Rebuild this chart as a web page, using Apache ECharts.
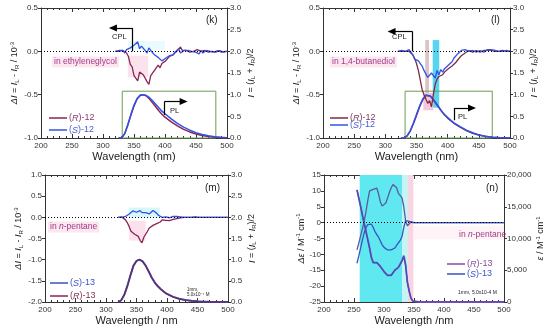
<!DOCTYPE html>
<html><head><meta charset="utf-8">
<script src="https://cdn.jsdelivr.net/npm/echarts@6/dist/echarts.min.js"></script>
<style>html,body{margin:0;padding:0;background:#fff}#c{width:550px;height:331px}</style>
</head><body><div id="c"></div>
<script>
// ---------------- DATA ----------------
const xTicks = [200, 250, 300, 350, 400, 450, 500];

// (k) CPL, ethyleneglycol
const k_cpl_wl = [320,323,326,329,332,335,338,341,344,347,350,353,356,359,362,365,368,371,374,377,380,383,386,389,392,395,398,401,404,407,410,413,416,419,422,425,428,431,434,437,440,443,446,449,452,455,458,461,464,467,470,473,476,479,482,485,488,491,494,497,500];
const k_cpl_R = [0,0.01,0,-0.01,0.01,0,-0.02,-0.06,-0.15,-0.18,-0.28,-0.27,-0.34,-0.24,-0.22,-0.27,-0.26,-0.35,-0.38,-0.28,-0.29,-0.22,-0.21,-0.16,-0.19,-0.14,-0.15,-0.11,-0.1,-0.06,-0.06,-0.04,-0.02,0,0.02,0.05,0.01,-0.01,0.01,0,-0.01,0.01,0,-0.01,0.02,0.04,0,-0.01,0.01,0,-0.01,0.01,0,0.01,-0.01,0,0.01,0,-0.01,0.01,0];
const k_cpl_S = [0,0,0.01,-0.01,0.01,-0.02,0.02,0,0.04,0.02,0.07,0.05,0.11,0.03,0.06,0.08,0.01,-0.02,0.04,0.01,-0.01,-0.04,-0.03,-0.07,-0.09,-0.11,-0.13,-0.08,-0.06,-0.05,-0.03,-0.04,-0.01,0.01,0.03,-0.02,-0.01,0.01,0,0.01,-0.01,0,0.01,-0.01,-0.02,-0.03,0.01,-0.02,0,0.01,-0.01,0,0.01,-0.01,0,0.01,0,-0.01,0.01,0,0];
// (k) PL
const k_pl_wl = [325,330,335,340,345,350,355,360,365,370,375,380,385,390,395,400,410,420,430,440,450,460,470,480,490,500];
const k_pl_R = [0,0,0.1,0.3,0.53,0.74,0.9,0.98,1.0,0.97,0.9,0.81,0.72,0.63,0.55,0.48,0.37,0.28,0.2,0.14,0.09,0.06,0.035,0.018,0.008,0.003];
const k_pl_S = [0,0,0.1,0.3,0.54,0.76,0.91,0.99,1.0,0.98,0.93,0.86,0.78,0.7,0.62,0.56,0.44,0.34,0.25,0.18,0.12,0.08,0.05,0.03,0.015,0.005];

// (l) CPL, 1,4-butanediol
const l_cpl_wl = k_cpl_wl;
const l_cpl_R = [0,0.01,0,0.01,0,0.01,0,0,-0.04,-0.08,-0.14,-0.22,-0.33,-0.44,-0.5,-0.55,-0.6,-0.57,-0.64,-0.5,-0.38,-0.32,-0.29,-0.27,-0.27,-0.24,-0.23,-0.2,-0.21,-0.17,-0.15,-0.13,-0.1,-0.08,-0.05,-0.04,-0.02,0,0.01,0,-0.01,0,0.01,0,-0.01,0,0.01,0,0.01,0.02,0.01,0,0,0.01,0,0,0.01,0,0,0,0];
const l_cpl_S = [0,0,0.01,0,0,0.01,0.02,0.03,-0.04,-0.09,-0.1,-0.11,-0.13,-0.17,-0.22,-0.26,-0.3,-0.29,-0.25,-0.24,-0.31,-0.22,-0.27,-0.21,-0.24,-0.2,-0.18,-0.16,-0.14,-0.12,-0.08,-0.06,-0.03,-0.02,0.01,0.03,0.02,0.01,0,0,0.01,0,-0.01,0,0.01,0,-0.01,0.01,0.02,0.01,0.02,0,0.01,0,0,0.01,0,0,0.01,0,0];
// (l) PL
const l_pl_wl = [325,330,335,340,345,350,355,360,365,368,372,376,380,385,390,395,400,410,420,430,440,450,460,470,480,490,500];
const l_pl_R = [0,0,0.05,0.16,0.33,0.52,0.72,0.88,0.98,1.0,0.97,0.9,0.82,0.72,0.62,0.53,0.46,0.34,0.25,0.17,0.11,0.07,0.04,0.02,0.01,0,0];
const l_pl_S = [0,0,0.05,0.17,0.34,0.54,0.74,0.9,0.99,1.0,0.97,0.91,0.83,0.73,0.63,0.54,0.47,0.35,0.26,0.18,0.12,0.07,0.04,0.02,0.01,0.005,0];

// (m) CPL, n-pentane
const m_cpl_wl = k_cpl_wl;
const m_cpl_R = [0,0,0.01,0,-0.06,-0.13,-0.22,-0.33,-0.37,-0.4,-0.41,-0.45,-0.55,-0.6,-0.47,-0.4,-0.33,-0.25,-0.22,-0.19,-0.17,-0.15,-0.13,-0.11,-0.06,-0.06,-0.07,-0.07,-0.08,-0.06,-0.05,-0.04,-0.03,-0.02,-0.01,0,0,0.01,0,0,0,0,0.01,0,0,0,0,0,0,0,0,0,0,0,0,0,0,0,0,0,0];
const m_cpl_S = [0,0,0,0.01,0.02,0.04,0.08,0.12,0.15,0.17,0.12,0.14,0.16,0.11,0.08,0.11,0.13,0.08,0.1,0.16,0.14,0.1,0.05,0.03,0,-0.01,0.01,0.02,-0.01,0.01,0.02,0.01,0.02,0,0.01,0,0,0,0,0,0,0,0,0,0,0,0,0,0,0,0,0,0,0,0,0,0,0,0,0,0];
// (m) PL
const m_pl_wl = [320,325,330,335,340,345,350,355,360,365,370,375,380,385,390,395,400,410,420,430,440,450,460,470,480,500];
const m_pl_R = [0,0.04,0.17,0.37,0.62,0.85,0.97,1.0,0.96,0.86,0.72,0.57,0.46,0.37,0.3,0.24,0.19,0.12,0.075,0.045,0.027,0.015,0.008,0.003,0,0];
const m_pl_S = [0,0.04,0.17,0.38,0.63,0.86,0.97,1.0,0.96,0.86,0.72,0.58,0.46,0.37,0.3,0.24,0.19,0.12,0.075,0.045,0.027,0.015,0.008,0.003,0,0];

// (n) CD and UV, n-pentane
const n_wl = [255,258,261,264,267,270,273,276,279,282,285,288,291,294,297,300,303,306,309,312,315,318,321,324,327,330,333,336,339,342,345,348,351,360,380,400,450,500];
const n_cd_R = [-8.6,-6.5,-4.2,-2,0.5,3.5,7,10,10.6,10.5,10.8,10.9,9,6.5,5.2,5.3,6.2,7.8,9.5,11,12,12.3,11,9.2,8.5,7.8,5,0.5,-1,-0.5,0.2,0,0,0,0,0,0,0];
const n_cd_S = [-12.8,-10.5,-8,-5.5,-3.2,-1.6,-0.6,-0.3,-0.5,-1.5,-2.8,-3.8,-4.6,-5.8,-7,-7.8,-8.3,-8.6,-8.7,-8.6,-8.4,-8,-7.2,-6.4,-5.6,-4.4,-1.5,0.6,0.9,0.4,-0.2,0,0,0,0,0,0,0];
const n_eps_R = [17650,16350,15050,13700,12400,11100,9800,8500,7000,6200,6250,6200,6000,5600,5200,4800,4500,4200,4100,4200,4600,5000,5300,5450,5700,6500,7300,5900,3100,1700,600,150,0,0,0,0,0,0];
const n_eps_S = [17650,16350,15050,13700,12400,11100,9800,8500,7000,6200,6250,6200,6000,5600,5200,4800,4500,4200,4100,4200,4600,5000,5300,5450,5700,6450,7150,5800,3100,1700,600,150,0,0,0,0,0,0];

// ---------------- STYLE / LAYOUT ----------------
const FONT = 'Liberation Sans, Arial, sans-serif';
const C = { maroon:'#8b2456', blue:'#3352e6', brown:'#7a2e44', purple:'#8a4aa8', nblue:'#3a52c0', green:'#6b9b55' };
const zip = (a, b) => a.map((x, i) => [x, b[i]]);

const grids = [
  {left:41, top:8, width:186, height:130},
  {left:323, top:8, width:187, height:130},
  {left:45, top:175, width:183, height:127},
  {left:324, top:175, width:180, height:127}
];

const richAxis = {
  i:{fontStyle:'italic', fontSize:9, fontFamily:FONT, color:'#222'},
  n:{fontSize:9, fontFamily:FONT, color:'#222'},
  sub:{fontSize:6, fontFamily:FONT, color:'#222', verticalAlign:'bottom', padding:[4,0,0,0]},
  sup:{fontSize:6, fontFamily:FONT, color:'#222', verticalAlign:'top', padding:[0,0,5,0]}
};

function xAxisPair(gi, name) {
  const base = {
    type:'value', gridIndex:gi, min:200, max:500, interval:50,
    axisLine:{onZero:false, lineStyle:{color:'#333', width:1}},
    axisTick:{inside:true, length:4, lineStyle:{color:'#333'}},
    minorTick:{show:true, splitNumber:5, length:2, lineStyle:{color:'#333'}},
    splitLine:{show:false}
  };
  return [
    Object.assign({}, base, {position:'bottom', name, nameLocation:'middle', nameGap:13,
      nameTextStyle:{fontSize:11, color:'#222', fontFamily:FONT},
      axisLabel:{fontSize:8, color:'#333', margin:4, fontFamily:FONT,
        formatter: v => xTicks.includes(v) ? String(v) : ''}}),
    Object.assign({}, base, {position:'top', axisLabel:{show:false}})
  ];
}
function yAx(gi, pos, min, max, interval, fmt, name, gap) {
  return {
    type:'value', gridIndex:gi, position:pos, min, max, interval,
    name, nameLocation:'middle', nameGap:gap, nameRotate:90,
    nameTextStyle:{fontSize:9, color:'#222', fontFamily:FONT, rich:richAxis},
    axisLine:{show:true, onZero:false, lineStyle:{color:'#333', width:1}},
    axisTick:{show:true, inside:false, length:3, lineStyle:{color:'#333'}},
    axisLabel:{fontSize:8, color:'#333', margin:3, fontFamily:FONT, formatter:fmt},
    splitLine:{show:false}
  };
}
const f1 = v => v.toFixed(1);
const fInt = v => String(v);
const fThou = v => v.toLocaleString('en-US');

const nameDI = '{i|ΔI}{n| = }{i|I}{sub|L}{n| - }{i|I}{sub|R}{n| / 10}{sup|-3}';
const nameI = '{i|I}{n| = (}{i|I}{sub|L}{n| + }{i|I}{sub|R}{n|)/2}';
const nameDE = '{i|Δε}{n| / M}{sup|-1}{n| cm}{sup|-1}';
const nameE = '{i|ε}{n| / M}{sup|-1}{n| cm}{sup|-1}';

const xAxes = [].concat(
  xAxisPair(0, 'Wavelength (nm)'), xAxisPair(1, 'Wavelength (nm)'),
  xAxisPair(2, 'Wavelength / nm'), xAxisPair(3, 'Wavelength /nm'));
const yAxes = [
  yAx(0,'left',-1,0.5,0.5,f1,nameDI,18), yAx(0,'right',0,3,0.5,f1,nameI,19),
  yAx(1,'left',-1,0.5,0.5,f1,nameDI,18), yAx(1,'right',0,3,0.5,f1,nameI,19),
  yAx(2,'left',-2,1,0.5,f1,nameDI,18), yAx(2,'right',0,3,0.5,f1,nameI,19),
  yAx(3,'left',-25,15,5,fInt,nameDE,17), yAx(3,'right',0,20000,5000,fThou,nameE,27)
];

function ln(name, xi, yi, data, color, w, z) {
  return {type:'line', name, xAxisIndex:xi, yAxisIndex:yi, data, showSymbol:false, symbol:'none',
    lineStyle:{color, width:w}, itemStyle:{color}, z:z||3, silent:true, animation:false};
}
const zeroLine = {yAxis:0, lineStyle:{type:[1,2], color:'#000', width:1}};
function arrowLines(x0, y0, y1, x1) {
  return [
    [{coord:[x0,y0], symbol:'none'}, {coord:[x0,y1], symbol:'none'}],
    [{coord:[x0,y1], symbol:'none'}, {coord:[x1,y1], symbol:'triangle', symbolSize:[7,8]}]
  ];
}
function withMarks(s, lines) {
  s.markLine = {silent:true, symbol:['none','none'], animation:false, label:{show:false},
    lineStyle:{type:'solid', color:'#000', width:1.2}, data:lines};
  return s;
}
function areaSeries(xi, yi, areas) {
  return {type:'line', xAxisIndex:xi, yAxisIndex:yi, data:[], z:1, silent:true, animation:false,
    markArea:{silent:true, animation:false, data:areas}};
}
function box(x0,y0,x1,y1,color,border) {
  return [{coord:[x0,y0], itemStyle:{color, borderColor:border||'none', borderWidth:border?1:0}}, {coord:[x1,y1]}];
}

const series = [
  // (k)
  areaSeries(0,0,[box(340,-0.05,373,-0.3,'#fbe3ee'), box(340,0.02,400,0.12,'#e8fbfd')]),
  areaSeries(0,1,[box(331,0,482,1.08,'rgba(0,0,0,0)',C.green)]),
  ln('(R)-12 PL',0,1,zip(k_pl_wl,k_pl_R),C.maroon,1.5),
  ln('(S)-12 PL',0,1,zip(k_pl_wl,k_pl_S),C.blue,1.5),
  withMarks(ln('(R)-12 CPL',0,0,zip(k_cpl_wl,k_cpl_R),C.maroon,1.3,4),
    [zeroLine].concat(arrowLines(347,0,0.27,316))),
  ln('(S)-12 CPL',0,0,zip(k_cpl_wl,k_cpl_S),C.blue,1.3,4),
  withMarks(ln('PLk',0,1,[],C.blue,1), arrowLines(399,0.53,0.84,430)),

  // (l)
  areaSeries(2,2,[box(364,0.13,370,-0.67,'#dcc3c3'), box(376,0.13,386.5,-0.65,'#58d3f0'), box(361,-0.48,377,-0.68,'#f6c6dc')]),
  areaSeries(2,3,[box(331.7,0,471.5,1.08,'rgba(0,0,0,0)',C.green)]),
  ln('(R)-12 PL',2,3,zip(l_pl_wl,l_pl_R),C.brown,1.5),
  ln('(S)-12 PL',2,3,zip(l_pl_wl,l_pl_S),C.blue,1.5),
  withMarks(ln('(R)-12 CPL',2,2,zip(l_cpl_wl,l_cpl_R),C.brown,1.3,4),
    [zeroLine].concat(arrowLines(343.5,0,0.23,310))),
  ln('(S)-12 CPL',2,2,zip(l_cpl_wl,l_cpl_S),C.blue,1.3,4),
  withMarks(ln('PLl',2,3,[],C.blue,1), arrowLines(410,0.41,0.69,439)),

  // (m)
  areaSeries(4,4,[box(337,0,388,0.23,'#d6f7fb'), box(338,-0.08,365,-0.55,'#fbe1ec')]),
  ln('(S)-13 PL',4,5,zip(m_pl_wl,m_pl_S),C.nblue,2),
  ln('(R)-13 PL',4,5,zip(m_pl_wl,m_pl_R),'#6a2c5c',1.3),
  withMarks(ln('(R)-13 CPL',4,4,zip(m_cpl_wl,m_cpl_R),C.maroon,1.3,4), [zeroLine]),
  ln('(S)-13 CPL',4,4,zip(m_cpl_wl,m_cpl_S),C.blue,1.3,4),

  // (n)
  areaSeries(6,6,[box(259.5,-25,330,15,'#5fe8f0'), box(330,-25,340,15,'#c6f4f6'), box(340,-25,349,15,'#f9d4e3'),
                  box(350,-1,500,-5.3,'#fef3f7')]),
  ln('(R)-13 eps',6,7,zip(n_wl,n_eps_R),C.purple,1.8),
  ln('(S)-13 eps',6,7,zip(n_wl,n_eps_S),C.nblue,1.2),
  withMarks(ln('(R)-13 CD',6,6,zip(n_wl,n_cd_R),'#5a5a9e',1.3,4), [zeroLine]),
  ln('(S)-13 CD',6,6,zip(n_wl,n_cd_S),C.nblue,1.3,4)
];

// ---------------- ANNOTATIONS ----------------
function T(x, y, text, size, color, opt) {
  return Object.assign({type:'text', x, y, z:100, silent:true,
    style:Object.assign({text, fontSize:size, fontFamily:FONT, fill:color,
      align:'left', verticalAlign:'middle', textAlign:'left', textVerticalAlign:'middle'}, opt||{})});
}
function L(x1, y1, x2, y2, color, w) {
  return {type:'line', z:100, silent:true, shape:{x1,y1,x2,y2}, style:{stroke:color, lineWidth:w||1.5}};
}
const legRich = (c) => ({i:{fontStyle:'italic', fontSize:9, fontFamily:FONT, fill:c, color:c}, n:{fontSize:9, fontFamily:FONT, fill:c, color:c}});
function legend(x, y, lineColor, textColor, label) {
  const parts = label.split('|');
  return [
    L(x, y, x+18, y, lineColor, 1.5),
    {type:'text', x:x+20, y, z:100, silent:true, style:{text:'{n|(}{i|'+parts[0]+'}{n|)'+parts[1]+'}', rich:legRich(textColor),
      fontSize:9, fontFamily:FONT, fill:textColor, verticalAlign:'middle', textVerticalAlign:'middle'}}
  ];
}
const graphics = [].concat(
  [T(206, 20, '(k)', 10, '#222'),
   T(52, 62, 'in ethyleneglycol', 8.5, '#a23a86', {backgroundColor:'#fce6f0', padding:[1,2]}),
   T(112, 37, 'CPL', 7.5, '#222'),
   T(170, 111, 'PL', 7.5, '#222')],
  legend(49, 118, C.maroon, '#8a3a6e', 'R|-12'),
  legend(49, 130, C.blue, '#4a5fd0', 'S|-12'),

  [T(491, 20, '(l)', 10, '#222'),
   T(330, 62, 'in 1,4-butanediol', 8.5, '#a23a86', {backgroundColor:'#fce6f0', padding:[1,2]}),
   T(392, 37, 'CPL', 7.5, '#222'),
   T(458, 117, 'PL', 7.5, '#222')],
  legend(330, 118, C.brown, '#7a3a5a', 'R|-12'),
  legend(330, 125, C.blue, '#4a5fd0', 'S|-12'),

  [T(205, 188, '(m)', 10, '#222'),
   {type:'text', x:48, y:227, z:100, silent:true, style:{text:'{n|in }{i|n}{n|-pentane}', fontSize:8.5, fontFamily:FONT,
     verticalAlign:'middle', textVerticalAlign:'middle', backgroundColor:'#fce6f0', padding:[1,2],
     rich:{n:{fontSize:8.5, fontFamily:FONT, fill:'#a23a86', color:'#a23a86'}, i:{fontSize:8.5, fontFamily:FONT, fontStyle:'italic', fill:'#a23a86', color:'#a23a86'}}}},
   T(187, 290, '1mm,', 4.5, '#222'),
   T(187, 295, '5.0x10\u207B\u2074 M', 4.5, '#222')],
  legend(50, 283, C.nblue, '#3a56c8', 'S|-13'),
  legend(50, 296, C.maroon, '#8a3050', 'R|-13'),

  [T(486, 188, '(n)', 10, '#222'),
   {type:'text', x:459, y:235, z:100, silent:true, style:{text:'{n|in }{i|n}{n|-pentane}', fontSize:8.5, fontFamily:FONT,
     verticalAlign:'middle', textVerticalAlign:'middle',
     rich:{n:{fontSize:8.5, fontFamily:FONT, fill:'#a23a86', color:'#a23a86'}, i:{fontSize:8.5, fontFamily:FONT, fontStyle:'italic', fill:'#a23a86', color:'#a23a86'}}}},
   T(458, 293, '1mm, 5.0x10-4 M', 5, '#222')],
  legend(447, 264, C.purple, '#8a4a9a', 'R|-13'),
  legend(447, 274, C.nblue, '#3a56c8', 'S|-13')
);

const chart = echarts.init(document.getElementById('c'), null, {renderer:'canvas', width:550, height:331});
chart.setOption({
  animation:false,
  backgroundColor:'#fff',
  textStyle:{fontFamily:FONT},
  grid:grids,
  xAxis:xAxes,
  yAxis:yAxes,
  series:series,
  graphic:graphics
});
</script></body></html>
